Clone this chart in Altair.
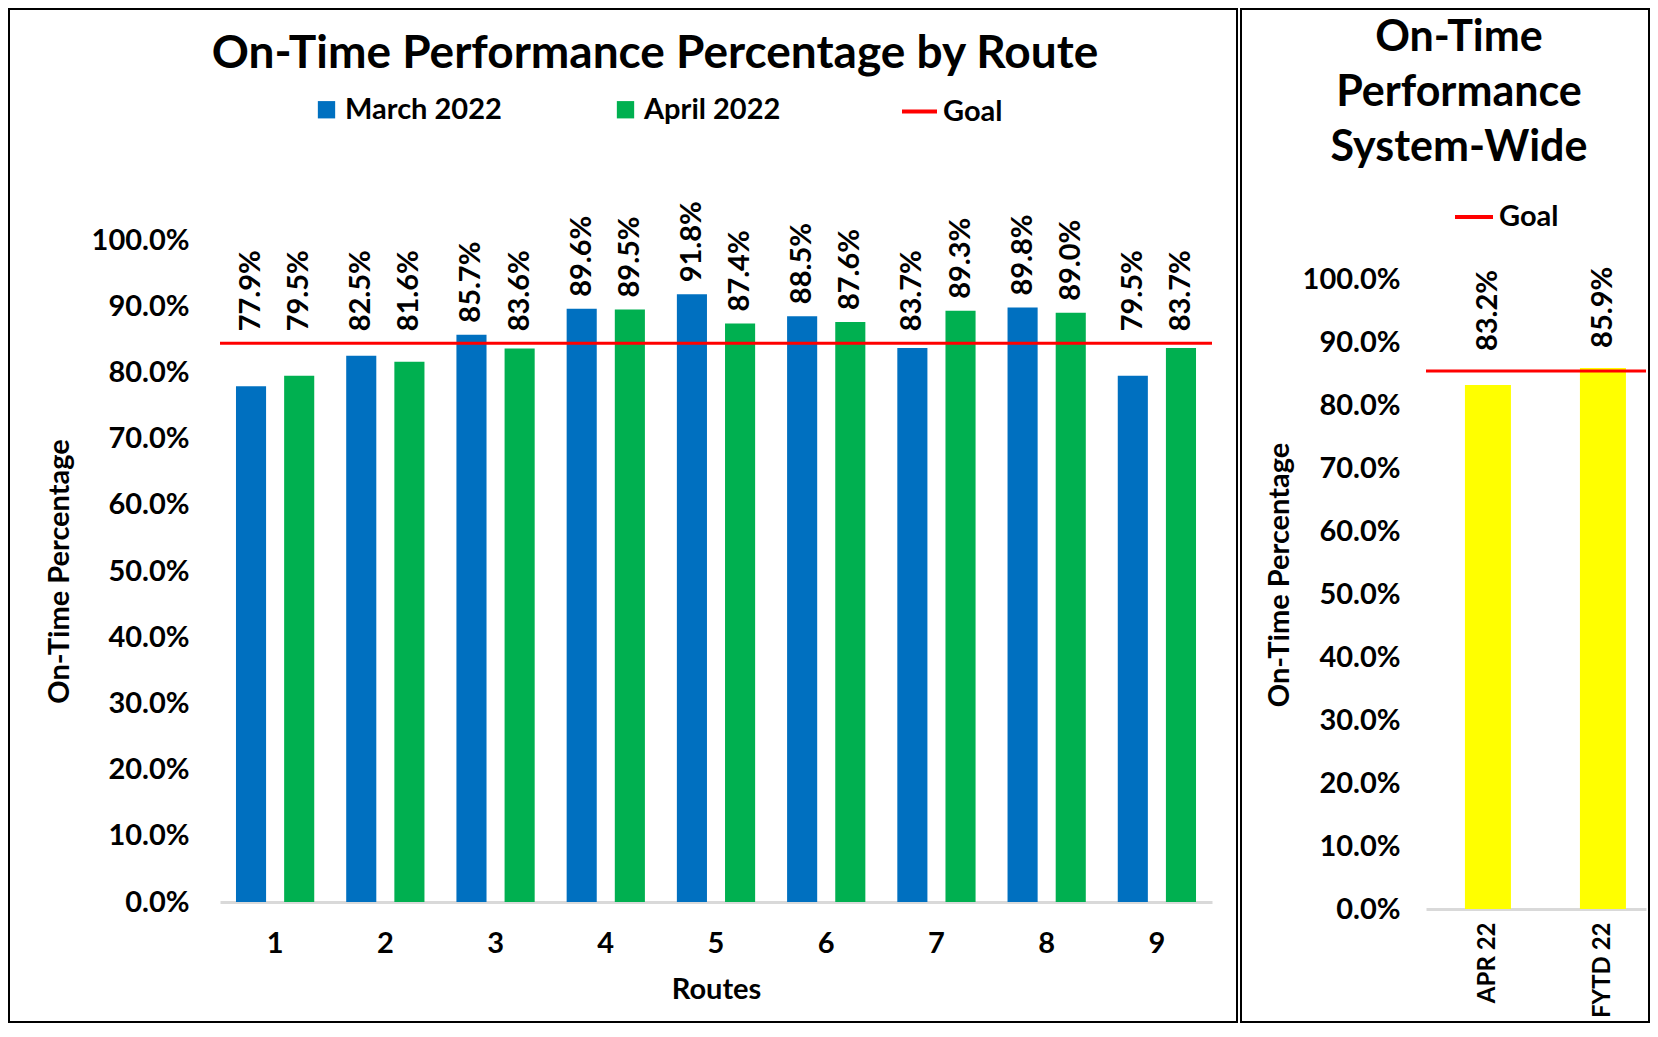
import altair as alt
import pandas as pd

# ---------------- data ----------------
routes = ["1", "2", "3", "4", "5", "6", "7", "8", "9"]
series_names = ["March 2022", "April 2022"]
march_2022 = [77.9, 82.5, 85.7, 89.6, 91.8, 88.5, 83.7, 89.8, 79.5]
april_2022 = [79.5, 81.6, 83.6, 89.5, 87.4, 87.6, 89.3, 89.0, 83.7]
goal_routes = 84.4

periods = ["APR 22", "FYTD 22"]
system_values = [83.2, 85.9]
goal_system = 85.4

y_ticks = [0, 10, 20, 30, 40, 50, 60, 70, 80, 90, 100]

# ---------------- style ----------------
FONT = "Lato"
BLUE = "#0070C0"
GREEN = "#00B050"
RED = "#FF0000"
YELLOW = "#FFFF00"
AXIS_GRAY = "#D9D9D9"
LABEL_EXPR = "format(datum.value, '.1f') + '%'"
FS = 29

route_df = pd.DataFrame({
    "route": routes * 2,
    "series": [series_names[0]] * len(routes) + [series_names[1]] * len(routes),
    "value": march_2022 + april_2022,
})
goal_df = pd.DataFrame({"goal": [goal_routes], "series": ["Goal"]})
sys_df = pd.DataFrame({"period": periods, "value": system_values})
sys_goal_df = pd.DataFrame({"goal": [goal_system], "series": ["Goal"]})
one = pd.DataFrame({"d": [0]})

W1, H1 = 992, 662
W2, H2 = 220, 669

# ---------------- left panel ----------------
x_left = alt.X(
    "route:N", sort=routes,
    scale=alt.Scale(paddingInner=0.29, paddingOuter=0.145),
    axis=alt.Axis(title="Routes", labelAngle=0, labelPadding=27, titlePadding=17,
                  domainColor=AXIS_GRAY, domainWidth=3, ticks=False, grid=False),
)
x_off = alt.XOffset("series:N", sort=series_names,
                    scale=alt.Scale(domain=series_names, paddingInner=0.375, paddingOuter=0))
y_left_scale = alt.Scale(domain=[0, 100], nice=False)
y_left_axis = alt.Axis(values=y_ticks, labelExpr=LABEL_EXPR, title="On-Time Percentage",
                       labelPadding=31, titlePadding=17, domain=False, ticks=False, grid=False)

frame_left = alt.Chart(one).mark_rect(fillOpacity=0, stroke="black", strokeWidth=2).encode(
    x=alt.value(-211), x2=alt.value(1017), y=alt.value(-231), y2=alt.value(782))

title_left = alt.Chart(one).mark_text(
    text="On-Time Performance Percentage by Route", font=FONT, fontWeight="bold",
    fontSize=46, align="center", baseline="alphabetic", color="black"
).encode(x=alt.value(435), y=alt.value(-172))

bars_left = alt.Chart(route_df).mark_bar().encode(
    x=x_left,
    xOffset=x_off,
    y=alt.Y("value:Q", scale=y_left_scale, axis=y_left_axis),
    fill=alt.Fill("series:N", sort=series_names,
                  scale=alt.Scale(domain=series_names, range=[BLUE, GREEN]),
                  legend=alt.Legend(orient="none", legendX=92, legendY=-145,
                                    direction="horizontal", title=None,
                                    symbolType="square", symbolSize=300,
                                    symbolStrokeWidth=0, columnPadding=109,
                                    labelFontSize=FS, labelFont=FONT,
                                    labelFontWeight="bold", labelColor="black",
                                    padding=0)),
)

labels_left = alt.Chart(route_df).transform_calculate(
    lab=f"max(datum.value, {goal_routes})",
    txt=LABEL_EXPR,
).mark_text(angle=270, align="left", baseline="middle", dx=12, font=FONT,
            fontWeight="bold", fontSize=FS, color="black").encode(
    x=x_left,
    xOffset=x_off,
    y=alt.Y("lab:Q", scale=y_left_scale, axis=y_left_axis),
    text="txt:N",
)

goal_left = alt.Chart(goal_df).mark_rule(strokeWidth=3).encode(
    y=alt.Y("goal:Q", scale=y_left_scale, axis=y_left_axis),
    stroke=alt.Stroke("series:N", scale=alt.Scale(domain=["Goal"], range=[RED]),
                      legend=alt.Legend(orient="none", legendX=680, legendY=-148,
                                        title=None, symbolType="stroke",
                                        symbolSize=1225, symbolStrokeWidth=4,
                                        labelFontSize=FS, labelFont=FONT,
                                        labelFontWeight="bold", labelColor="black",
                                        padding=0)),
)

left = alt.layer(frame_left, title_left, bars_left, labels_left, goal_left).properties(
    width=W1, height=H1)

# ---------------- right panel ----------------
x_right = alt.X(
    "period:N", sort=periods,
    scale=alt.Scale(paddingInner=0.6, paddingOuter=0.2565, align=0.66),
    axis=alt.Axis(title=None, labelAngle=270, labelPadding=13, labelFontSize=24,
                  domainColor=AXIS_GRAY, domainWidth=3, ticks=False, grid=False),
)
y_right_scale = alt.Scale(domain=[0, 106.2], nice=False)
y_right_axis = alt.Axis(values=y_ticks, labelExpr=LABEL_EXPR, title="On-Time Percentage",
                        labelPadding=26, titlePadding=8, domain=False, ticks=False, grid=False)

frame_right = alt.Chart(one).mark_rect(fillOpacity=0, stroke="black", strokeWidth=2).encode(
    x=alt.value(-185), x2=alt.value(223), y=alt.value(-231), y2=alt.value(782))

title_right = alt.Chart(one).mark_text(
    text=["On-Time", "Performance", "System-Wide"], font=FONT, fontWeight="bold",
    fontSize=43, lineHeight=55, align="center", baseline="alphabetic", color="black"
).encode(x=alt.value(33), y=alt.value(-189))

bars_right = alt.Chart(sys_df).mark_bar(color=YELLOW).encode(
    x=x_right,
    y=alt.Y("value:Q", scale=y_right_scale, axis=y_right_axis),
)

labels_right = alt.Chart(sys_df).transform_calculate(
    lab=f"max(datum.value, {goal_system})",
    txt=LABEL_EXPR,
).mark_text(angle=270, align="left", baseline="middle", dx=20, font=FONT,
            fontWeight="bold", fontSize=FS, color="black").encode(
    x=x_right,
    y=alt.Y("lab:Q", scale=y_right_scale, axis=y_right_axis),
    text="txt:N",
)

goal_right = alt.Chart(sys_goal_df).mark_rule(strokeWidth=3).encode(
    y=alt.Y("goal:Q", scale=y_right_scale, axis=y_right_axis),
    stroke=alt.Stroke("series:N", scale=alt.Scale(domain=["Goal"], range=[RED]),
                      legend=alt.Legend(orient="none", legendX=27, legendY=-44,
                                        title=None, symbolType="stroke",
                                        symbolSize=1444, symbolStrokeWidth=4,
                                        labelFontSize=FS, labelFont=FONT,
                                        labelFontWeight="bold", labelColor="black",
                                        padding=0)),
)

right = alt.layer(frame_right, title_right, bars_right, labels_right, goal_right).properties(
    width=W2, height=H2)

chart = alt.hconcat(left, right, spacing=2).resolve_scale(
    fill="independent", stroke="independent", x="independent", y="independent"
).resolve_legend(fill="independent", stroke="independent").properties(
    padding=0, background="white"
).configure_view(stroke=None).configure_axis(
    labelFont=FONT, labelFontWeight="bold", labelFontSize=FS, labelColor="black",
    titleFont=FONT, titleFontWeight="bold", titleFontSize=FS, titleColor="black",
)

chart.save("out.html", embed_options={"renderer": "svg", "actions": False})
